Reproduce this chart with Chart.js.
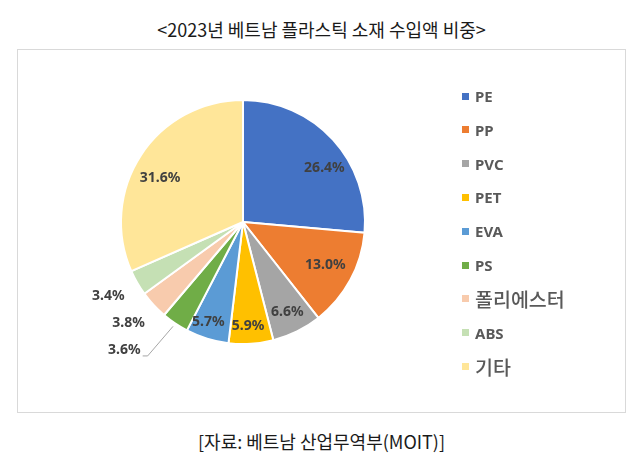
<!DOCTYPE html>
<html><head><meta charset="utf-8">
<script src="https://cdn.jsdelivr.net/npm/chart.js@4.4.1/dist/chart.umd.min.js"></script>
<style>
html,body{margin:0;padding:0;background:#fff;width:639px;height:466px;overflow:hidden;}
#title{position:absolute;left:0;width:643px;top:16px;text-align:center;font:18px "Noto Sans CJK KR","Noto Sans",sans-serif;color:#1a1a1a;}
#box{position:absolute;left:17px;top:49px;width:607px;height:362px;border:1px solid #d9d9d9;}
#wrap{position:absolute;left:0;top:0;width:607px;height:362px;}
#legend{position:absolute;left:444px;top:36px;width:160px;height:320px;}
.row{position:absolute;left:0;height:20px;display:flex;align-items:center;white-space:nowrap;}
.sw{width:7px;height:7px;margin-right:6px;flex:none;}
.lt{font:bold 15px "Noto Sans","Noto Sans CJK KR",sans-serif;color:#595959;}
.lk{font:500 19.5px "Noto Sans CJK KR",sans-serif;color:#595959;}
#src{position:absolute;left:0;width:643px;top:428px;text-align:center;font:18px "Noto Sans CJK KR","Noto Sans",sans-serif;color:#1a1a1a;}
</style></head>
<body>
<div id="title">&lt;2023년 베트남 플라스틱 소재 수입액 비중&gt;</div>
<div id="box"><div id="wrap"><canvas id="c" width="607" height="362"></canvas></div><div id="legend"></div></div>
<div id="src">[자료: 베트남 산업무역부(MOIT)]</div>
<script>
const categories = ['PE','PP','PVC','PET','EVA','PS','폴리에스터','ABS','기타'];
const shares = [26.4, 13.0, 6.6, 5.9, 5.7, 3.6, 3.8, 3.4, 31.6];
const colors = ['#4472C4','#ED7D31','#A5A5A5','#FFC000','#5B9BD5','#70AD47','#F8CBAD','#C5E0B4','#FFE699'];
// label placement style: radius factor and angle nudge (deg)
const labelRadius = [0.80, 0.76, 0.82, 0.85, 0.87, 1.43, 1.25, 1.26, 0.77];
const labelNudge  = [9, -1, 0, 1, 2, 9, 1.5, 1, -5];
const leader      = [false,false,false,false,false,true,false,false,false];

const labelPlugin = {
  id:'pieLabels',
  afterDatasetsDraw(chart){
    const ctx = chart.ctx;
    const meta = chart.getDatasetMeta(0);
    ctx.save();
    ctx.font = 'bold 14px "Noto Sans", sans-serif';
    ctx.fillStyle = '#404040';
    ctx.textAlign = 'center';
    ctx.textBaseline = 'middle';
    meta.data.forEach((arc,i)=>{
      const p = arc.getProps(['x','y','startAngle','endAngle','outerRadius'], true);
      const mid = (p.startAngle + p.endAngle)/2;
      const a = mid + labelNudge[i]*Math.PI/180;
      const r = p.outerRadius*labelRadius[i];
      const lx = p.x + Math.cos(a)*r, ly = p.y + Math.sin(a)*r;
      const txt = shares[i].toFixed(1)+'%';
      ctx.fillText(txt, lx, ly);
      if (leader[i]) {
        const w = ctx.measureText(txt).width;
        const ax = p.x + Math.cos(mid)*p.outerRadius*1.03, ay = p.y + Math.sin(mid)*p.outerRadius*1.03;
        ctx.strokeStyle = '#A6A6A6'; ctx.lineWidth = 1;
        ctx.beginPath();
        ctx.moveTo(ax, ay);
        ctx.lineTo(lx + w/2 + 7, ly + 6);
        ctx.lineTo(lx + w/2 + 2, ly + 6);
        ctx.stroke();
      }
    });
    ctx.restore();
  }
};

const chart = new Chart(document.getElementById('c'), {
  type:'pie',
  data:{labels:categories, datasets:[{data:shares, backgroundColor:colors, borderColor:'#ffffff', borderWidth:2}]},
  options:{
    responsive:false, animation:false,
    layout:{padding:{left:102,top:49,right:259,bottom:67}},
    plugins:{legend:{display:false}, tooltip:{enabled:false}}
  },
  plugins:[labelPlugin]
});

// HTML legend built from chart's own (pie) legend items
const items = chart.options.plugins.legend.labels.generateLabels(chart);
const leg = document.getElementById('legend');
items.forEach((it,i)=>{
  const row = document.createElement('div');
  row.className='row';
  row.style.top = (i*33.8)+'px';
  const sw = document.createElement('div'); sw.className='sw'; sw.style.background = it.fillStyle;
  const t = document.createElement('span');
  t.className = /[가-힣]/.test(it.text) ? 'lk' : 'lt';
  t.textContent = it.text;
  row.appendChild(sw); row.appendChild(t); leg.appendChild(row);
});
</script>
</body></html>
